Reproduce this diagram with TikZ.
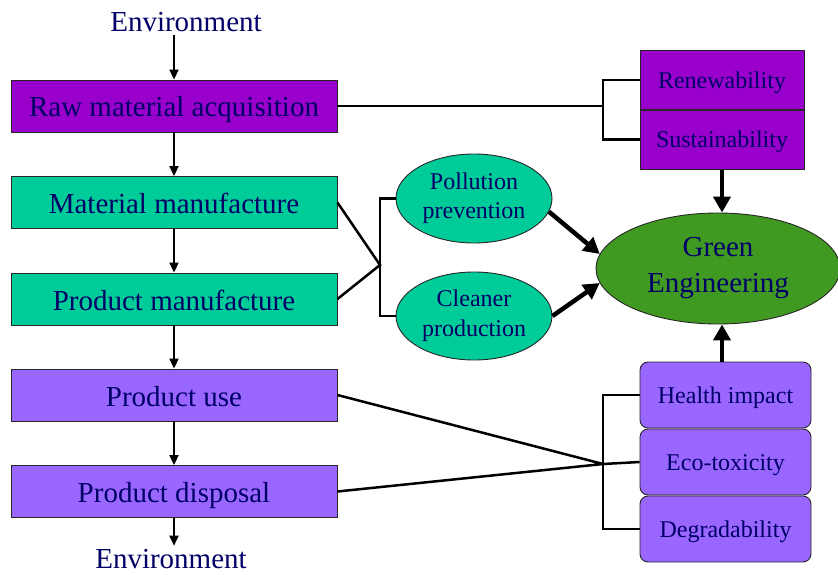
\documentclass[tikz,border=0pt]{standalone}
\usepackage{fontspec}
\setmainfont{Liberation Serif}
\usetikzlibrary{shapes.geometric,arrows.meta}
\definecolor{txt}{RGB}{0,0,102}
\definecolor{rawc}{RGB}{153,0,204}
\definecolor{manc}{RGB}{0,204,153}
\definecolor{usec}{RGB}{153,102,255}
\definecolor{grn}{RGB}{64,154,34}
\tikzset{
  big/.style={font=\fontsize{29}{36}\selectfont, text=txt},
  small/.style={font=\fontsize{24}{29}\selectfont, text=txt},
  lbox/.style={big, draw=black!85, line width=0.9pt, minimum width=326pt, minimum height=52pt, inner sep=0pt, text height=22pt, text depth=0pt},
  rbox/.style={small, draw=black!85, line width=0.9pt, minimum width=164pt, minimum height=59.5pt, inner sep=0pt, fill=rawc, text height=17pt, text depth=0pt},
  qbox/.style={small, draw=black!85, line width=0.9pt, rounded corners=8pt, minimum width=171pt, minimum height=66pt, inner sep=0pt, fill=usec, text height=16pt, text depth=0pt},
  ell/.style={ellipse, draw=black!85, line width=0.9pt, inner sep=0pt, align=center},
  thin/.style={line width=2pt, -{Triangle[length=10pt,width=9pt]}},
  thick/.style={line width=4.5pt, -{Triangle[length=16pt,width=17pt]}},
  conn/.style={line width=2.5pt},
}
\begin{document}
\begin{tikzpicture}[x=1pt,y=-1pt]
\useasboundingbox (0,0) rectangle (838,575);
% left chain
\node[big] (env1) at (186,22) {Environment};
\node[lbox, fill=rawc] (raw) at (174,106) {Raw material acquisition};
\node[lbox, fill=manc] (matm) at (174,202.5) {Material manufacture};
\node[lbox, fill=manc] (prodm) at (174,299) {Product manufacture};
\node[lbox, fill=usec] (use) at (174,395) {Product use};
\node[lbox, fill=usec] (disp) at (174,491.5) {Product disposal};
\node[big] (env2) at (171,559) {Environment};
\draw[thin] (raw.north |- env1.south) -- (raw.north);
\draw[thin] (raw.south) -- (matm.north);
\draw[thin] (matm.south) -- (prodm.north);
\draw[thin] (prodm.south) -- (use.north);
\draw[thin] (use.south) -- (disp.north);
\draw[thin] (disp.south) -- (disp.south |- env2.north);
% right top
\node[rbox] (renew) at (722,80) {Renewability};
\node[rbox] (sust) at (722,139.5) {Sustainability};
\draw[draw=black!85, line width=0.9pt] (renew.south west) -- (renew.south east);
% ellipses
\node[ell, small, fill=manc, font=\fontsize{24}{29}\selectfont, minimum width=156pt, minimum height=89pt] (poll) at (474,198.5) {\raisebox{-3pt}{Pollution}\\\raisebox{-3pt}{prevention}};
\node[ell, small, fill=manc, font=\fontsize{24}{30}\selectfont, minimum width=156pt, minimum height=88pt] (clean) at (474,316) {\raisebox{-3pt}{Cleaner}\\\raisebox{-3pt}{production}};
\node[ell, big, fill=grn, minimum width=244pt, minimum height=111pt] (green) at (718,268.5) {\raisebox{-4pt}{Green}\\\raisebox{-4pt}{Engineering}};
% bottom right
\node[qbox] (health) at (725.5,395) {Health impact};
\node[qbox] (eco) at (725.5,462) {Eco-toxicity};
\node[qbox] (degrad) at (725.5,529) {Degradability};
% brackets
\coordinate (b1) at (603,106);
\coordinate (b2) at (380,265);
\coordinate (b3) at (603,464);
\draw[conn] (raw.east) -- (b1);
\draw[conn] (renew.west) -| (b1) |- (sust.west);
\draw[conn] (poll.west) -| (b2) |- (clean.west);
\draw[conn] (matm.east) -- (b2) -- (prodm.east);
\draw[conn] (health.west) -| (b3) |- (degrad.west);
\draw[conn] (eco.west) -- (b3);
\draw[conn] (use.east) -- (b3) -- (disp.east);
% thick arrows
\draw[thick] (poll.-10) -- (green.173);
\draw[thick] (clean.0) -- (green.187);
\draw[thick] (sust.south) -- (sust.south |- green.north);
\draw[thick] (sust.south |- health.north) -- (sust.south |- green.south);
\end{tikzpicture}
\end{document}
